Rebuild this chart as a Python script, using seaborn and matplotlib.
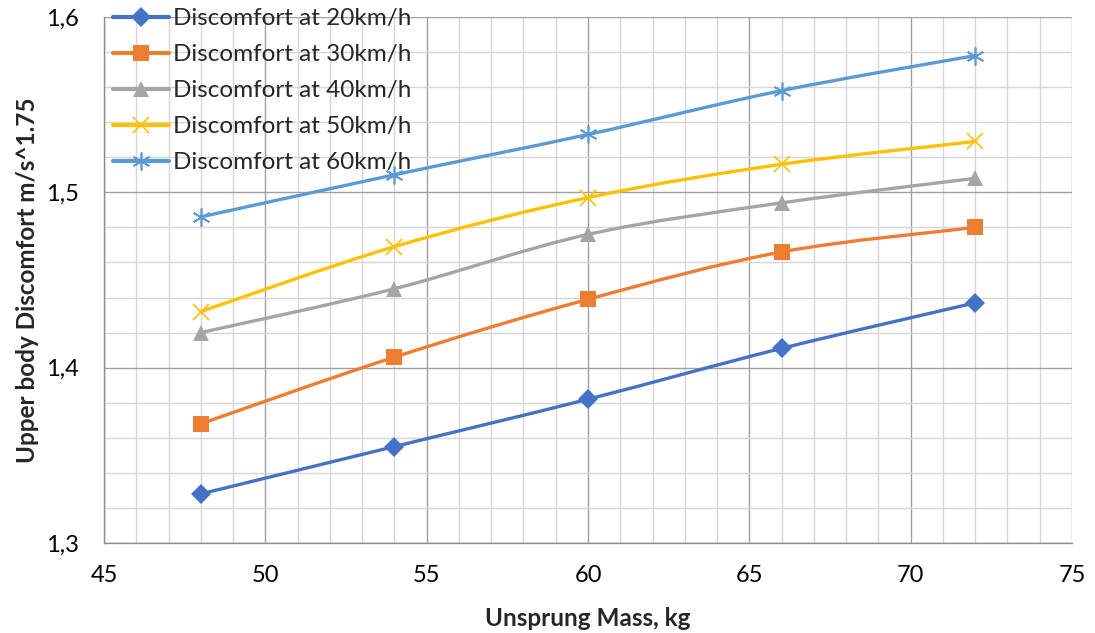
import matplotlib
matplotlib.use("Agg")
import matplotlib.pyplot as plt
from matplotlib.path import Path
from matplotlib.patches import PathPatch
from matplotlib.lines import Line2D
from matplotlib.ticker import MultipleLocator, FuncFormatter
import seaborn as sns
import pandas as pd

mass = [48, 54, 60, 66, 72]
d20 = [1.328, 1.355, 1.382, 1.411, 1.437]
d30 = [1.368, 1.406, 1.439, 1.466, 1.480]
d40 = [1.420, 1.445, 1.476, 1.494, 1.508]
d50 = [1.432, 1.469, 1.497, 1.516, 1.529]
d60 = [1.486, 1.510, 1.533, 1.558, 1.578]
labels = ["Discomfort at 20km/h", "Discomfort at 30km/h", "Discomfort at 40km/h",
          "Discomfort at 50km/h", "Discomfort at 60km/h"]
series = [d20, d30, d40, d50, d60]
colors = ["#4472C4", "#ED7D31", "#A5A5A5", "#FFC000", "#5B9BD5"]
markers = ["D", "s", "^", "x", (6, 2, 0)]
msizes = [10.5, 12, 12, 12, 13]

sns.set_theme(style="white")
plt.rcParams['font.family'] = ['Lato', 'DejaVu Sans']

fig = plt.figure(figsize=(10.95, 6.33), dpi=100)
ax = fig.add_axes([104/1095, 1-543/633, (1072-104)/1095, (543-17)/633])

rows = []
for lab, ys in zip(labels, series):
    for x, y in zip(mass, ys):
        rows.append({"mass": x, "val": y, "series": lab})
df = pd.DataFrame(rows)

def smooth_path(xs, ys):
    pts = list(zip(xs, ys))
    verts = [pts[0]]
    codes = [Path.MOVETO]
    n = len(pts)
    for i in range(n - 1):
        p0 = pts[i - 1] if i > 0 else pts[i]
        p1 = pts[i]
        p2 = pts[i + 1]
        p3 = pts[i + 2] if i + 2 < n else pts[i + 1]
        c1 = (p1[0] + (p2[0] - p0[0]) / 6, p1[1] + (p2[1] - p0[1]) / 6)
        c2 = (p2[0] - (p3[0] - p1[0]) / 6, p2[1] - (p3[1] - p1[1]) / 6)
        verts += [c1, c2, p2]
        codes += [Path.CURVE4] * 3
    return Path(verts, codes)

handles = []
for lab, ys, c, m, ms in zip(labels, series, colors, markers, msizes):
    ax.add_patch(PathPatch(smooth_path(mass, ys), fill=False, edgecolor=c,
                           lw=2.4, zorder=3, capstyle='round'))
    sub = df[df["series"] == lab]
    mew = 1.2 if (m == "x" or isinstance(m, tuple)) else 0
    sns.lineplot(data=sub, x="mass", y="val", ax=ax, color=c, marker=m,
                 markersize=ms, linestyle="", markeredgecolor=c,
                 markeredgewidth=mew, zorder=4, legend=False)
    handles.append(Line2D([0], [0], color=c, lw=3.0, marker=m, markersize=ms,
                          markeredgecolor=c, markeredgewidth=mew))

ax.set_xlim(45, 75)
ax.set_ylim(1.3, 1.6)
ax.xaxis.set_major_locator(MultipleLocator(5))
ax.xaxis.set_minor_locator(MultipleLocator(1))
ax.yaxis.set_major_locator(MultipleLocator(0.1))
ax.yaxis.set_minor_locator(MultipleLocator(0.02))
ax.yaxis.set_major_formatter(FuncFormatter(lambda v, p: f"{v:.1f}".replace(".", ",")))
ax.xaxis.set_major_formatter(FuncFormatter(lambda v, p: f"{v:.0f}"))

ax.grid(which="major", color="#a0a0a0", lw=1.0, zorder=1)
ax.grid(which="minor", color="#d6d6d6", lw=1.0, zorder=0)
ax.set_axisbelow(True)
for s in ["top", "right"]:
    ax.spines[s].set_visible(False)
for s in ["left", "bottom"]:
    ax.spines[s].set_color("#8c8c8c")
    ax.spines[s].set_linewidth(1.0)

ax.tick_params(axis="both", which="major", direction="out", length=6, width=1,
               color="#8c8c8c", labelsize=17, labelcolor="black")
ax.tick_params(axis="both", which="minor", length=0)
ax.tick_params(axis="y", pad=12)
ax.tick_params(axis="x", pad=10)

ax.set_xlabel("Unsprung Mass, kg", fontsize=17.5, fontweight="bold", labelpad=15)
ax.set_ylabel("Upper body Discomfort m/s^1.75", fontsize=17.5, fontweight="bold", labelpad=5)

leg = ax.legend(handles, labels, loc="upper left", bbox_to_anchor=(9/968, 1 + 9/526),
                frameon=False, fontsize=17.5, handlelength=2.3, handletextpad=0.18,
                labelspacing=0.62, borderaxespad=0, borderpad=0)

fig.savefig("out.png", dpi=100)
